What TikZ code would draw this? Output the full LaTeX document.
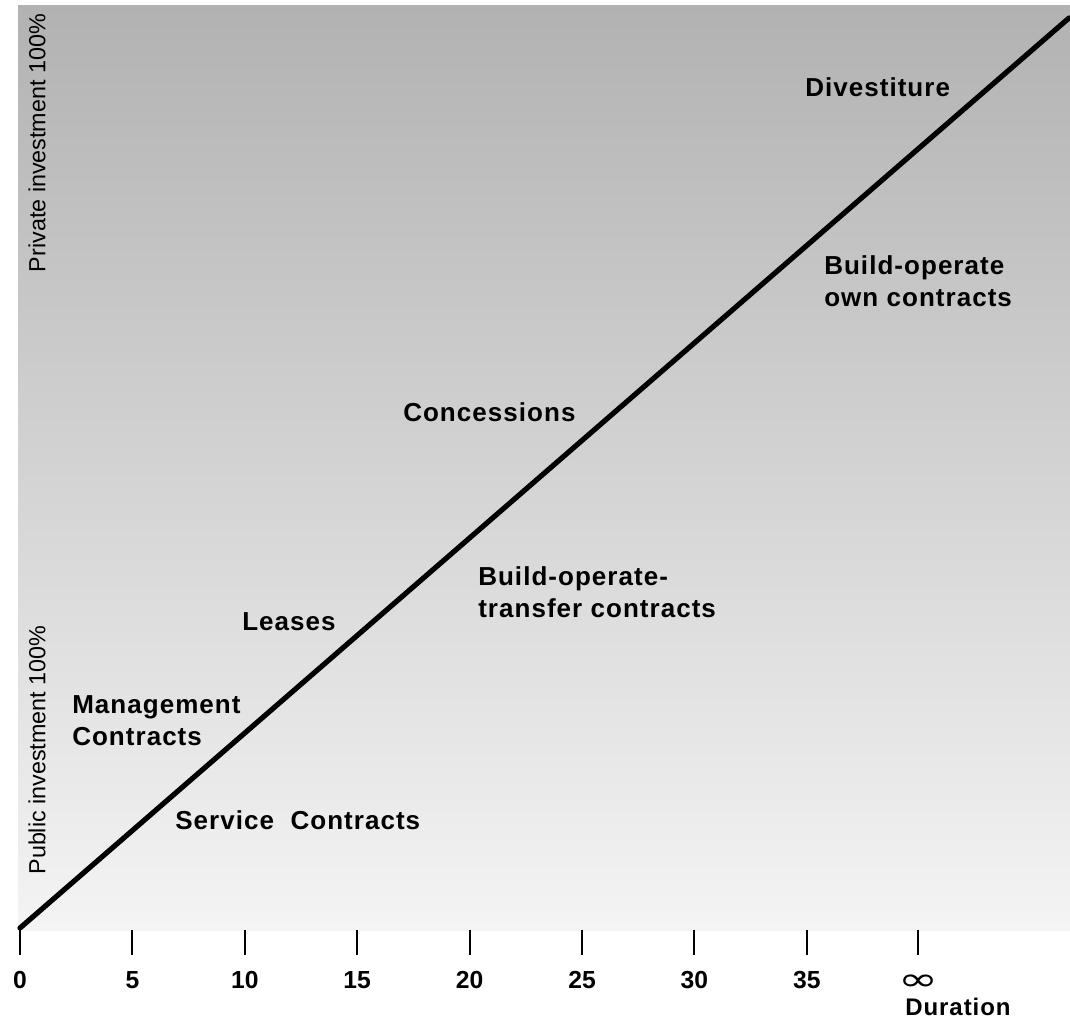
\documentclass[tikz,border=0pt]{standalone}
\usepackage{fontspec}
\setmainfont{Liberation Sans}
\newfontfamily\symfont{DejaVu Sans}
\usepackage{graphicx}
\definecolor{topgray}{RGB}{178,178,178}
\definecolor{botgray}{RGB}{244,244,244}
\tikzset{
  lbl/.style={anchor=west, inner sep=0pt, font=\fontsize{19.5}{24}\selectfont\bfseries\addfontfeature{LetterSpace=4}, align=left},
  ticklbl/.style={inner sep=0pt, font=\fontsize{18.5}{22}\selectfont\bfseries},
  sidelbl/.style={rotate=90, inner sep=0pt, font=\fontsize{17.5}{20}\selectfont},
  tickline/.style={line width=1.6pt, black},
  mainline/.style={line width=3.9pt, black, line cap=round}
}
\begin{document}
\begin{tikzpicture}[x=0.75pt, y=-0.75pt]
\useasboundingbox (0,0) rectangle (1070,1020);
\fill[white] (0,0) rectangle (1070,1020);
\shade[top color=topgray, bottom color=botgray] (18,6) rectangle (1070,930);

% main diagonal
\coordinate (start) at (20,928);
\coordinate (end) at (1069,18);
\draw[mainline] (start) -- (end);

% ticks and labels
\foreach \k/\t in {0/0,1/5,2/10,3/15,4/20,5/25,6/30,7/35}{
  \coordinate (tA\k) at ({20+112.4*\k},930);
  \coordinate (tB\k) at ({20+112.4*\k},955);
  \draw[tickline] (tA\k) -- (tB\k);
  \node[ticklbl] (tl\k) at ({20+112.4*\k},980) {\t};
}
\coordinate (tA8) at (918,930);
\coordinate (tB8) at (918,955);
\draw[tickline] (tA8) -- (tB8);
\node[inner sep=0pt] (inf) at (918,983) {\scalebox{1.5}[1]{\symfont\fontsize{24}{24}\selectfont ∞}};
\node[ticklbl, anchor=west, font=\fontsize{18}{22}\selectfont\bfseries\addfontfeature{LetterSpace=4}] (dur) at (905,1007) {Duration};

% side labels
\node[sidelbl] (priv) at (37,143) {Private investment 100\%};
\node[sidelbl] (pub) at (37,750) {Public investment 100\%};

% region labels
\node[lbl] (div) at (805,87) {Divestiture};
\node[lbl] (boo) at (824,281) {Build-operate\\own contracts};
\node[lbl] (con) at (403,412) {Concessions};
\node[lbl] (bot) at (478,592) {Build-operate-\\transfer contracts};
\node[lbl] (lea) at (242,622) {Leases};
\node[lbl] (man) at (72,721) {Management\\Contracts};
\node[lbl] (ser) at (175,820) {Service\ \ Contracts};
\end{tikzpicture}
\end{document}
